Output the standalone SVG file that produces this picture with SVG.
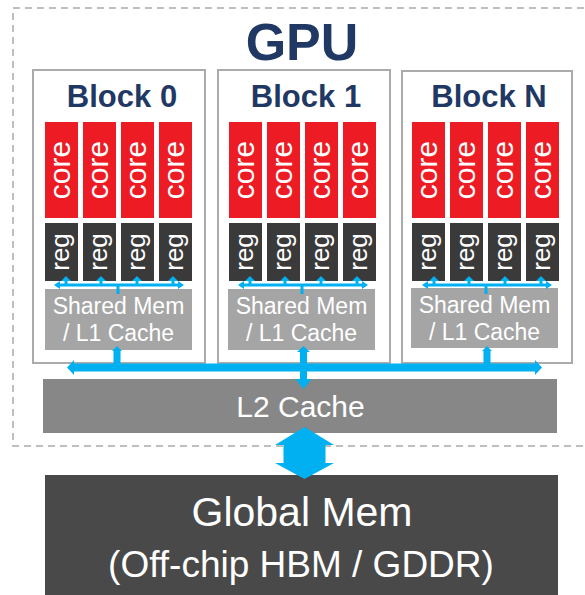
<svg xmlns="http://www.w3.org/2000/svg" width="585" height="595" viewBox="0 0 585 595">
<style>
text{font-family:"Liberation Sans",Arial,sans-serif}
.title{font-size:52px;font-weight:bold;fill:#1F3864}
.blabel{font-size:31px;font-weight:bold;fill:#1F3864}
.blk{fill:#fff;stroke:#ABABAB;stroke-width:2}
.core{fill:#ED1C24}
.reg{fill:#3A3A3A}
.ct{font-size:30px;fill:#fff}
.rt{font-size:26px;fill:#fff}
.sm{fill:#A5A5A5}
.smt{font-size:23px;fill:#fff}
.blue{fill:#00B0F0}
.bline{stroke:#00B0F0;stroke-width:3;fill:none}
</style>
<defs>
<g id="column">
<rect class="core" x="0" y="122" width="33" height="96"/>
<rect class="reg" x="0" y="223" width="33" height="58"/>
<text class="ct" text-anchor="middle" transform="translate(24.5,170) rotate(-90)">core</text>
<text class="rt" text-anchor="middle" transform="translate(23.5,252) rotate(-90)">reg</text>
</g>
<g id="localbus">
<line class="bline" x1="14" y1="285" x2="134" y2="285"/>
<polygon class="blue" points="9,285 15,281 15,289"/>
<polygon class="blue" points="139,285 133,281 133,289"/>
<line class="bline" x1="21" y1="285" x2="21" y2="280"/>
<polygon class="blue" points="21,276 16,281 26,281"/>
<line class="bline" x1="56" y1="285" x2="56" y2="280"/>
<polygon class="blue" points="56,276 51,281 61,281"/>
<line class="bline" x1="92" y1="285" x2="92" y2="280"/>
<polygon class="blue" points="92,276 87,281 97,281"/>
<line class="bline" x1="128" y1="285" x2="128" y2="280"/>
<polygon class="blue" points="128,276 123,281 133,281"/>
<line class="bline" x1="73" y1="285" x2="73" y2="294"/>
</g>
</defs>
<rect x="13" y="8" width="600" height="438" fill="none" stroke="#ABABAB" stroke-width="1.5" stroke-dasharray="7 5"/>
<text class="title" x="302" y="60" text-anchor="middle">GPU</text>

<g id="block0">
<rect class="blk" x="33" y="70" width="172" height="293"/>
<text class="blabel" x="122" y="107" text-anchor="middle">Block 0</text>
<use href="#column" x="45"/><use href="#column" x="83"/><use href="#column" x="121"/><use href="#column" x="159"/>
<rect class="sm" x="45" y="289" width="147" height="61"/>
<text class="smt" x="118.5" y="314" text-anchor="middle">Shared Mem</text>
<text class="smt" x="118.5" y="341" text-anchor="middle">/ L1 Cache</text>
</g>

<g id="block1">
<rect class="blk" x="218" y="70" width="172" height="293"/>
<text class="blabel" x="306" y="107" text-anchor="middle">Block 1</text>
<use href="#column" x="229"/><use href="#column" x="267"/><use href="#column" x="305"/><use href="#column" x="343"/>
<rect class="sm" x="228" y="289" width="147" height="61"/>
<text class="smt" x="301.5" y="314" text-anchor="middle">Shared Mem</text>
<text class="smt" x="301.5" y="341" text-anchor="middle">/ L1 Cache</text>
</g>

<g id="blockN">
<rect class="blk" x="402" y="71" width="170" height="292"/>
<text class="blabel" x="489" y="107" text-anchor="middle">Block N</text>
<use href="#column" x="412"/><use href="#column" x="450"/><use href="#column" x="488"/><use href="#column" x="526"/>
<rect class="sm" x="411" y="288" width="147" height="60"/>
<text class="smt" x="484.5" y="313" text-anchor="middle">Shared Mem</text>
<text class="smt" x="484.5" y="340" text-anchor="middle">/ L1 Cache</text>
</g>

<g id="l2">
<rect x="43" y="379" width="514" height="54" fill="#878787"/>
<text x="300.5" y="417" text-anchor="middle" font-size="30" fill="#fff">L2 Cache</text>
</g>

<g id="global">
<rect x="45" y="475" width="513" height="130" fill="#494949"/>
<text x="302" y="526" text-anchor="middle" font-size="41" fill="#fff">Global Mem</text>
<text x="301" y="577" text-anchor="middle" font-size="37" fill="#fff">(Off-chip HBM / GDDR)</text>
</g>

<g id="connectors">
<use href="#localbus" x="45"/>
<use href="#localbus" x="229"/>
<use href="#localbus" x="413"/>
<polygon class="blue" points="67,367.5 74,360 74,363.5 535,363.5 535,360 542,367.5 535,375 535,371.5 74,371.5 74,375"/>
<polygon class="blue" points="117,346 122,351 120.5,351 120.5,364 113.5,364 113.5,351 112,351"/>
<polygon class="blue" points="487,346 492,351 490.5,351 490.5,364 483.5,364 483.5,351 482,351"/>
<polygon class="blue" points="303.5,346 310,352 307,352 307,379 311.5,379 303.5,389 295.5,379 300,379 300,352 297,352"/>
<polygon class="blue" points="304.5,427 334,445 325.5,445 325.5,463 334,463 304.5,479 275,463 283.5,463 283.5,445 275,445"/>
</g>
</svg>
